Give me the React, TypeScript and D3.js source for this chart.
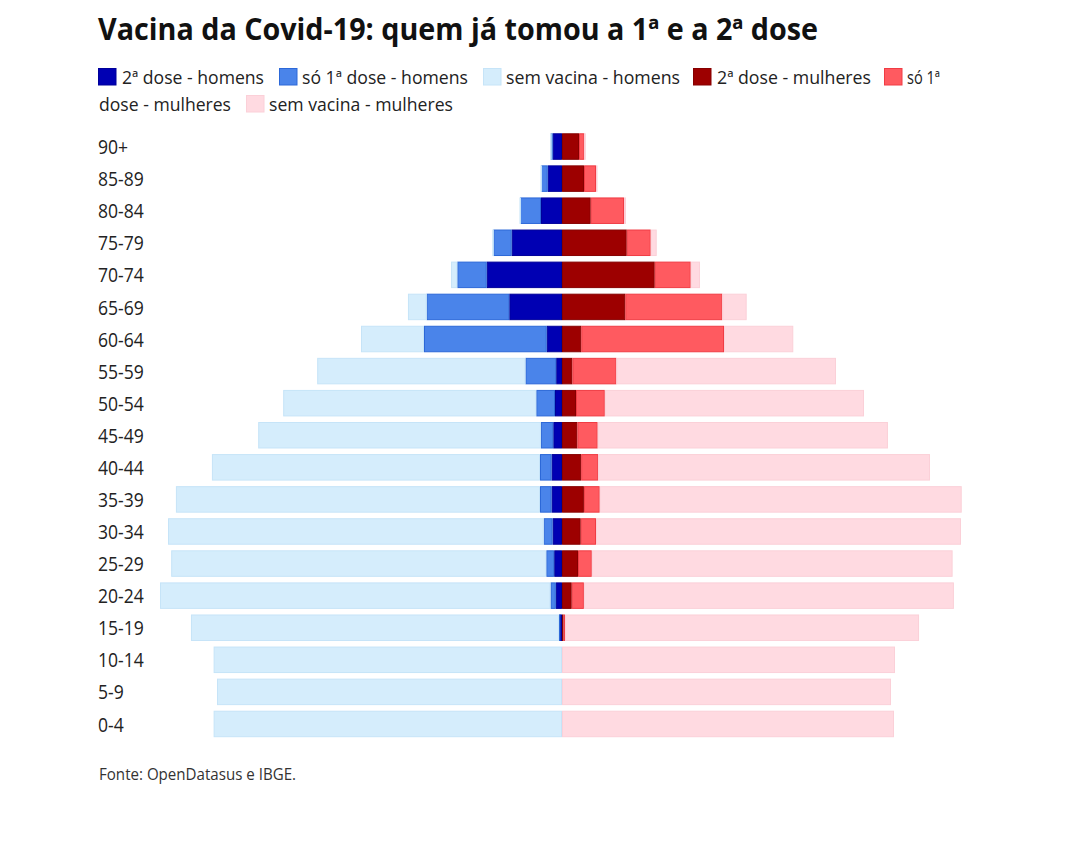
import React from 'react';
import * as d3 from 'd3';

// Age groups (top to bottom)
const ageGroups = ['90+', '85-89', '80-84', '75-79', '70-74', '65-69', '60-64', '55-59', '50-54', '45-49', '40-44', '35-39', '30-34', '25-29', '20-24', '15-19', '10-14', '5-9', '0-4'];

// Values in thousands of people
const menDose2 = [195, 300, 441, 1056, 1581, 1107, 321, 122, 147, 183, 218, 218, 197, 164, 130, 53, 0, 0, 0];
const menDose1 = [42, 141, 441, 386, 617, 1735, 2577, 645, 393, 260, 244, 244, 187, 166, 111, 11, 0, 0, 0];
const menNone = [11, 11, 11, 21, 132, 393, 1323, 4374, 5315, 5937, 6890, 7646, 7890, 7877, 8201, 7728, 7316, 7245, 7316];

const womenDose2 = [357, 462, 603, 1359, 1947, 1329, 405, 218, 294, 323, 403, 460, 393, 336, 204, 32, 0, 0, 0];
const womenDose1 = [111, 252, 699, 504, 756, 2037, 2997, 924, 605, 426, 357, 332, 321, 290, 256, 32, 0, 0, 0];
const womenNone = [21, 11, 42, 126, 195, 512, 1455, 4612, 5443, 6096, 6968, 7602, 7665, 7577, 7770, 7434, 6993, 6909, 6972];

const seriesNames = ['2ª dose - homens', 'só 1ª dose - homens', 'sem vacina - homens', '2ª dose - mulheres', 'só 1ª dose - mulheres', 'sem vacina - mulheres'];

const COLORS = {
  menDose2: { fill: '#0000b3', stroke: '#00009a' },
  menDose1: { fill: '#4a84ea', stroke: '#2c68d8' },
  menNone: { fill: '#d5edfc', stroke: '#c6e4f8' },
  womenDose2: { fill: '#9d0000', stroke: '#860000' },
  womenDose1: { fill: '#ff5a60', stroke: '#f03c44' },
  womenNone: { fill: '#ffdae1', stroke: '#fbd0d8' },
};

const FONT = "'Open Sans', 'Noto Sans', sans-serif";

export default function App() {
  const width = 1080;
  const height = 841;
  const cx = 562;

  const x = d3.scaleLinear().domain([0, 8400]).range([0, 400]);
  const y = d3
    .scaleBand<string>()
    .domain(ageGroups)
    .range([130.5, 740])
    .paddingInner(0.174)
    .paddingOuter(0.087);

  const menSeries = [
    { vals: menDose2, c: COLORS.menDose2 },
    { vals: menDose1, c: COLORS.menDose1 },
    { vals: menNone, c: COLORS.menNone },
  ];
  const womenSeries = [
    { vals: womenDose2, c: COLORS.womenDose2 },
    { vals: womenDose1, c: COLORS.womenDose1 },
    { vals: womenNone, c: COLORS.womenNone },
  ];

  const rects: React.ReactNode[] = [];
  ageGroups.forEach((g, i) => {
    const y0 = y(g) as number;
    const bh = y.bandwidth();
    let cum = 0;
    menSeries.forEach((s, k) => {
      const v = s.vals[i];
      if (v > 0) {
        const x1 = cx - x(cum + v);
        const w = x(v);
        rects.push(
          <rect key={`m${i}-${k}`} x={x1 + 0.5} y={y0 + 0.5} width={Math.max(w - 1, 0.5)} height={bh - 1}
            fill={s.c.fill} stroke={s.c.stroke} strokeWidth={1} />
        );
      }
      cum += v;
    });
    cum = 0;
    womenSeries.forEach((s, k) => {
      const v = s.vals[i];
      if (v > 0) {
        const x1 = cx + x(cum);
        const w = x(v);
        rects.push(
          <rect key={`w${i}-${k}`} x={x1 + 0.5} y={y0 + 0.5} width={Math.max(w - 1, 0.5)} height={bh - 1}
            fill={s.c.fill} stroke={s.c.stroke} strokeWidth={1} />
        );
      }
      cum += v;
    });
  });

  // Legend layout (mimics HTML wrapping of the original)
  const legendColors = [COLORS.menDose2, COLORS.menDose1, COLORS.menNone, COLORS.womenDose2, COLORS.womenDose1, COLORS.womenNone];
  const legendLayout = [
    { sx: 98, sy: 68, parts: [{ x: 122, y: 84, text: seriesNames[0], len: 142 }] },
    { sx: 279, sy: 68, parts: [{ x: 302, y: 84, text: seriesNames[1], len: 166 }] },
    { sx: 483, sy: 68, parts: [{ x: 506, y: 84, text: seriesNames[2], len: 174 }] },
    { sx: 693, sy: 68, parts: [{ x: 717, y: 84, text: seriesNames[3], len: 154 }] },
    {
      sx: 884, sy: 68, parts: [
        { x: 907, y: 84, text: 'só 1ª', len: 33 },
        { x: 99, y: 111, text: 'dose - mulheres', len: 132 },
      ]
    },
    { sx: 246, sy: 95, parts: [{ x: 269, y: 111, text: seriesNames[5], len: 184 }] },
  ];

  return (
    <svg width={width} height={height} style={{ position: 'absolute', left: 0, top: 0, display: 'block', background: '#fff' }}
      fontFamily={FONT}>
      <rect x={0} y={0} width={width} height={height} fill="#fff" />
      <text x={98} y={40} fontSize={30} fontWeight={700} fill="#111" textLength={720} lengthAdjust="spacingAndGlyphs">
        Vacina da Covid-19: quem já tomou a 1ª e a 2ª dose
      </text>

      {legendLayout.map((l, i) => (
        <g key={`lg${i}`}>
          <rect x={l.sx + 0.5} y={l.sy + 0.5} width={17.5} height={16.5} fill={legendColors[i].fill} stroke={legendColors[i].stroke} />
          {l.parts.map((p, j) => (
            <text key={j} x={p.x} y={p.y} fontSize={18} fill="#222" textLength={p.len} lengthAdjust="spacingAndGlyphs">
              {p.text}
            </text>
          ))}
        </g>
      ))}

      {ageGroups.map((g) => (
        <g key={`lab${g}`} transform={`translate(98, ${(y(g) as number) + y.bandwidth() / 2 + 7.6}) scale(0.9, 1)`}>
          <text x={0} y={0} fontSize={19.5} fill="#222">{g}</text>
        </g>
      ))}

      <g>{rects}</g>

      <text x={99} y={780} fontSize={16.5} fill="#333" textLength={197} lengthAdjust="spacingAndGlyphs">
        Fonte: OpenDatasus e IBGE.
      </text>
    </svg>
  );
}
